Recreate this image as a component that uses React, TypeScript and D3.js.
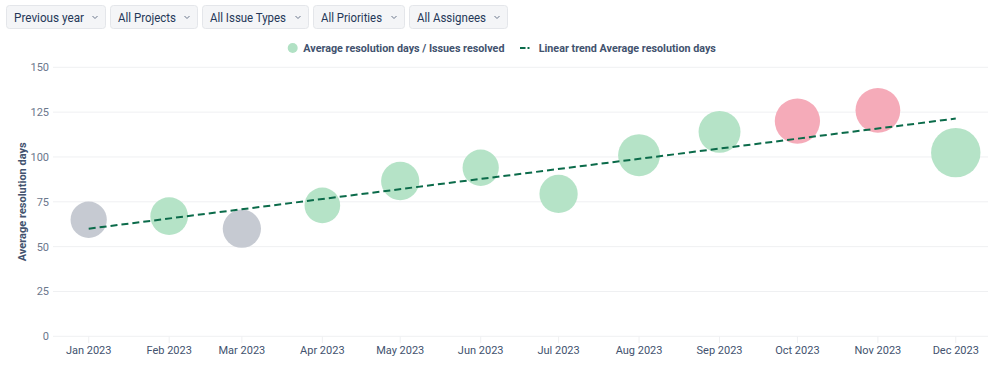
import React from "react";
import * as d3 from "d3";

const months = ["2023-01-01","2023-02-01","2023-03-01","2023-04-01","2023-05-01","2023-06-01","2023-07-01","2023-08-01","2023-09-01","2023-10-01","2023-11-01","2023-12-01"];
const avgDays = [65, 67, 60, 73, 86.6, 94, 79.4, 101, 114, 120, 126, 102.4];
const issuesResolved = [27, 29, 30, 26, 30, 27, 30, 36, 36, 42, 41, 50];
const status = ["neutral","good","neutral","good","good","good","good","good","good","bad","bad","good"];
const trendEnds = [60, 121.4];
const yTicks = [0, 25, 50, 75, 100, 125, 150];
const filters = ["Previous year", "All Projects", "All Issue Types", "All Priorities", "All Assignees"];
const legendLabels = ["Average resolution days / Issues resolved", "Linear trend Average resolution days"];
const yTitle = "Average resolution days";

const colorMap: Record<string, string> = { neutral: "#c3c7d0", good: "#b1e1c4", bad: "#f4a6b5" };
const FONT = "Roboto, 'Noto Sans', sans-serif";

const parse = (s: string) => { const [y, m, d] = s.split("-").map(Number); return new Date(y, m - 1, d); };

// button layout
const btnX = [6, 110, 202, 313, 409];
const btnW = [100, 88, 107, 92, 99];
const btnTextW = [70, 58, 76, 61, 69];

export default function App() {
  const W = 999, H = 375;
  const dates = months.map(parse);
  const x = d3.scaleTime()
    .domain([new Date(2022, 11, 18, 6), new Date(2023, 11, 13, 10)])
    .range([53, 988]);
  const y = d3.scaleLinear().domain([0, 150]).range([336.3, 67.3]);
  const r = d3.scaleSqrt().domain([0, 50]).range([0, 24.7]);
  const fmt = d3.timeFormat("%b %Y");
  const trendLine = d3.line<[Date, number]>().x(d => x(d[0])).y(d => y(d[1]));
  const trendData: [Date, number][] = [[dates[0], trendEnds[0]], [dates[dates.length - 1], trendEnds[1]]];

  return (
    <div style={{ position: "absolute", left: 0, top: 0 }}>
      <svg width={W} height={H} style={{ display: "block", fontFamily: FONT }}>
        <rect width={W} height={H} fill="#fff" />
        {filters.map((f, i) => (
          <g key={f} transform={`translate(${btnX[i]},5)`}>
            <rect x={0.5} y={0.5} width={btnW[i] - 1} height={23} rx={3} fill="#f4f5f7" stroke="#e4e6ea" />
            <text x={8} y={16.5} fontSize={12.2} fill="#253858" textLength={btnTextW[i]} lengthAdjust="spacingAndGlyphs">{f}</text>
            <path d={`M${btnW[i] - 13.5},11 l2.5,2.5 l2.5,-2.5`} fill="none" stroke="#6b778c" strokeWidth={1} />
          </g>
        ))}
        {/* legend */}
        <circle cx={292.7} cy={48} r={5} fill={colorMap.good} />
        <text x={303.3} y={52} fontSize={10.75} fontWeight={700} fill="#42526e">{legendLabels[0]}</text>
        <path d="M520,48 h5.5 M527.5,48 h2" stroke="#0b6b4a" strokeWidth={2} />
        <text x={538.7} y={52} fontSize={10.75} fontWeight={700} fill="#42526e">{legendLabels[1]}</text>
        {/* grid */}
        {yTicks.map(t => (
          <g key={t}>
            <line x1={53} x2={988} y1={y(t)} y2={y(t)} stroke="#eff0f2" strokeWidth={1} />
            <text x={49} y={y(t) + 4} fontSize={11} textAnchor="end" fill="#6b778c">{t}</text>
          </g>
        ))}
        <text transform={`translate(26,${y(75)}) rotate(-90)`} textAnchor="middle" fontSize={11} fontWeight={700} fill="#42526e">{yTitle}</text>
        {dates.map((d, i) => (
          <g key={i}>
            <line x1={x(d)} x2={x(d)} y1={336.3} y2={343} stroke="#eff0f2" />
            <text x={x(d)} y={354} fontSize={11} textAnchor="middle" fill="#42526e">{fmt(d)}</text>
          </g>
        ))}
        {/* bubbles */}
        {dates.map((d, i) => (
          <circle key={i} cx={x(d)} cy={y(avgDays[i])} r={r(issuesResolved[i])} fill={colorMap[status[i]]} fillOpacity={0.95} />
        ))}
        <path d={trendLine(trendData) || ""} fill="none" stroke="#0b6b4a" strokeWidth={2} strokeDasharray="7,4" />
      </svg>
    </div>
  );
}
